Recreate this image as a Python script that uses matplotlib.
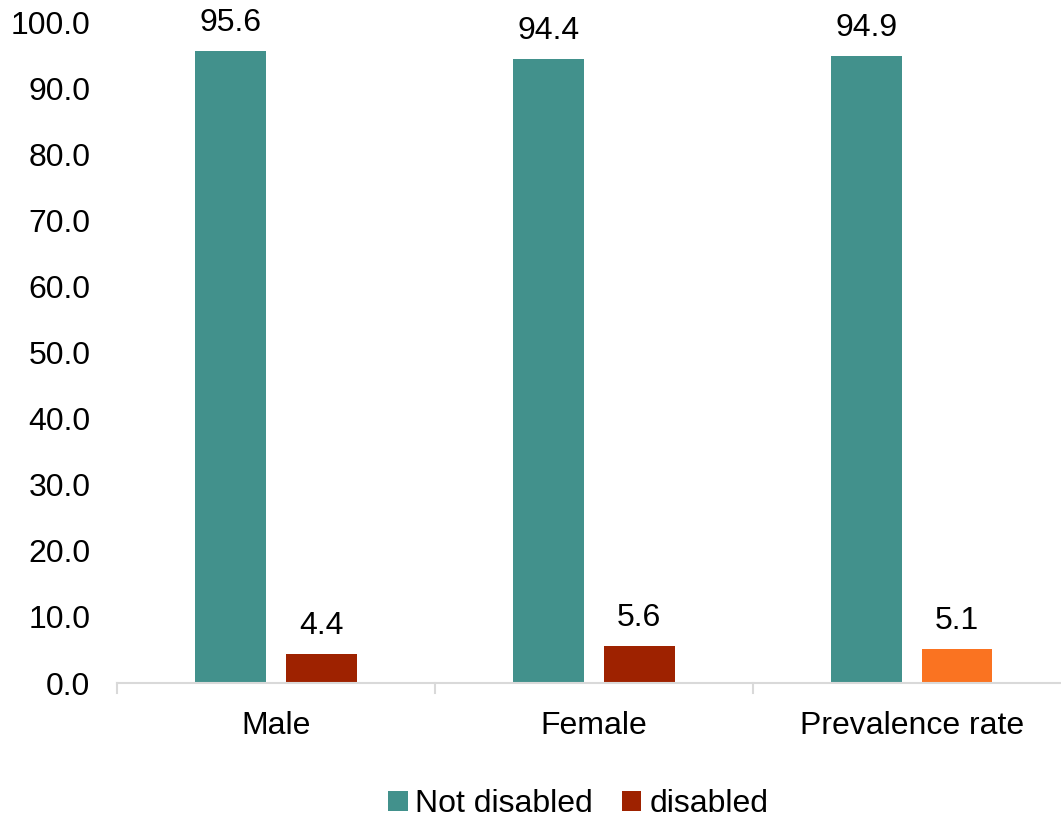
import matplotlib.pyplot as plt
import numpy as np

categories = ["Male", "Female", "Prevalence rate"]
not_disabled = [95.6, 94.4, 94.9]
disabled = [4.4, 5.6, 5.1]
disabled_colors = ["#9E2200", "#9E2200", "#FA7321"]

plt.rcParams["font.family"] = ["Liberation Sans", "DejaVu Sans"]
FS = 23

fig = plt.figure(figsize=(10.61, 8.18), dpi=100)
ax = fig.add_axes([0.110, 0.165, 0.899, 0.808])

x = np.arange(len(categories))
w = 0.223
off = 0.143
b1 = ax.bar(x - off, not_disabled, w, color="#42918C", label="Not disabled")
b2 = ax.bar(x + off, disabled, w, color=disabled_colors, label="disabled")

for bars, vals in ((b1, not_disabled), (b2, disabled)):
    for r, v in zip(bars, vals):
        ax.text(r.get_x() + r.get_width() / 2, v + 2.0, f"{v:.1f}",
                ha="center", va="bottom", fontsize=FS)

ax.set_ylim(0, 100)
ax.set_xlim(-0.5, 2.5)
ax.set_yticks(np.arange(0, 101, 10))
ax.set_yticklabels([f"{t:.1f}" for t in np.arange(0, 101, 10)], fontsize=FS)
ax.set_xticks(x)
ax.set_xticklabels(categories, fontsize=FS)
ax.tick_params(axis="x", length=0, pad=20)
ax.tick_params(axis="y", length=0, pad=19)
for s in ("top", "right", "left"):
    ax.spines[s].set_visible(False)
ax.spines["bottom"].set_color("#D9D9D9")
ax.spines["bottom"].set_linewidth(1.5)
# category boundary ticks
for bx in (-0.5, 0.5, 1.5, 2.5):
    ax.plot([bx, bx], [0, -1.5], color="#D9D9D9", lw=1.5, clip_on=False)

fig.legend(handles=[b1[0], b2[0]], labels=["Not disabled", "disabled"],
           loc="center", bbox_to_anchor=(0.545, 0.017), ncol=2,
           frameon=False, fontsize=FS, handlelength=0.6, handleheight=0.6,
           handletextpad=0.25, columnspacing=0.9)

fig.savefig("out.png", dpi=100)
